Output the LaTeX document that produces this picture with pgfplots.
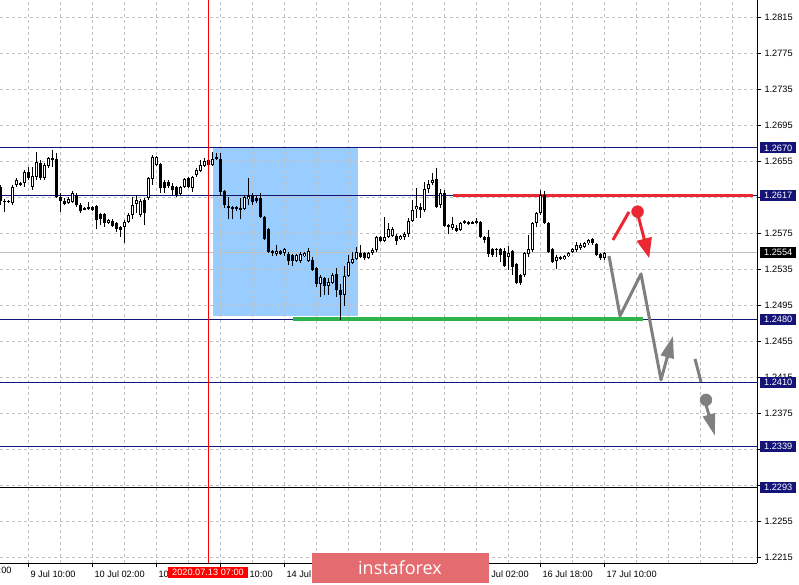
\documentclass[border=0pt]{standalone}
\usepackage{fontspec}
\setmainfont{Liberation Sans}
\newfontfamily\logofont{Open Sans}
\usepackage{pgfplots}
\pgfplotsset{compat=1.18}
\usepackage{pgfplotstable}
\usetikzlibrary{arrows.meta}

\definecolor{mtnavy}{RGB}{20,20,120}
\definecolor{lvlred}{RGB}{235,40,50}
\definecolor{lvlgreen}{RGB}{45,180,75}
\definecolor{boxblue}{RGB}{153,204,255}
\definecolor{gridgray}{RGB}{192,192,192}
\definecolor{arrgray}{RGB}{128,128,128}
\definecolor{logored}{RGB}{228,108,112}

% GBPUSD H1 candles: bar index, open, high, low, close
\pgfplotstableread{
k o h l c
0 1.26266 1.26289 1.26066 1.26111
1 1.26111 1.26133 1.25989 1.26100
2 1.26111 1.26122 1.26089 1.26105
3 1.26089 1.26289 1.26066 1.26266
4 1.26289 1.26366 1.26266 1.26344
5 1.26289 1.26322 1.26277 1.26311
6 1.26311 1.26455 1.26266 1.26433
7 1.26433 1.26488 1.26344 1.26366
8 1.26266 1.26488 1.26233 1.26388
9 1.26377 1.26655 1.26344 1.26544
10 1.26533 1.26566 1.26344 1.26366
11 1.26366 1.26533 1.26344 1.26511
12 1.26499 1.26599 1.26477 1.26588
13 1.26577 1.26677 1.26488 1.26588
14 1.26577 1.26644 1.26144 1.26155
15 1.26155 1.26200 1.25989 1.26111
16 1.26111 1.26144 1.26066 1.26078
17 1.26089 1.26155 1.26078 1.26133
18 1.26100 1.26222 1.26089 1.26200
19 1.26178 1.26200 1.26044 1.26066
20 1.26066 1.26089 1.25978 1.26000
21 1.26033 1.26044 1.26011 1.26022
22 1.26022 1.26100 1.26011 1.26044
23 1.26044 1.26055 1.26000 1.26011
24 1.26055 1.26066 1.25800 1.25900
25 1.25967 1.25978 1.25844 1.25911
26 1.25967 1.25978 1.25822 1.25867
27 1.25867 1.25911 1.25856 1.25900
28 1.25889 1.25911 1.25822 1.25833
29 1.25867 1.25878 1.25767 1.25800
30 1.25822 1.25833 1.25711 1.25789
31 1.25822 1.25900 1.25645 1.25878
32 1.25878 1.25978 1.25867 1.25955
33 1.25955 1.26155 1.25911 1.26066
34 1.26078 1.26178 1.25978 1.26122
35 1.25955 1.26133 1.25933 1.26111
36 1.26122 1.26144 1.25844 1.25978
37 1.26144 1.26377 1.26122 1.26366
38 1.26355 1.26622 1.26289 1.26599
39 1.26511 1.26610 1.26499 1.26599
40 1.26522 1.26533 1.26200 1.26255
41 1.26322 1.26344 1.26200 1.26255
42 1.26322 1.26344 1.26255 1.26277
43 1.26277 1.26311 1.26178 1.26233
44 1.26266 1.26277 1.26155 1.26178
45 1.26189 1.26277 1.26178 1.26266
46 1.26266 1.26366 1.26255 1.26355
47 1.26366 1.26377 1.26255 1.26266
48 1.26255 1.26388 1.26211 1.26377
49 1.26400 1.26477 1.26377 1.26455
50 1.26444 1.26566 1.26433 1.26511
51 1.26499 1.26588 1.26488 1.26555
52 1.26566 1.26588 1.26499 1.26511
53 1.26511 1.26655 1.26499 1.26577
54 1.26599 1.26644 1.26566 1.26588
55 1.26577 1.26644 1.26166 1.26211
56 1.26222 1.26233 1.26033 1.26066
57 1.26055 1.26155 1.25911 1.26044
58 1.26044 1.26055 1.25911 1.26033
59 1.26044 1.26055 1.26000 1.26022
60 1.26033 1.26144 1.25911 1.26011
61 1.26022 1.26178 1.26011 1.26155
62 1.26133 1.26366 1.26066 1.26166
63 1.26178 1.26200 1.26066 1.26100
64 1.26144 1.26166 1.26089 1.26111
65 1.26144 1.26200 1.25922 1.25933
66 1.25933 1.25944 1.25678 1.25689
67 1.25800 1.25811 1.25534 1.25545
68 1.25556 1.25567 1.25500 1.25534
69 1.25523 1.25623 1.25500 1.25556
70 1.25556 1.25567 1.25512 1.25523
71 1.25534 1.25589 1.25500 1.25578
72 1.25523 1.25545 1.25401 1.25445
73 1.25512 1.25523 1.25389 1.25445
74 1.25445 1.25523 1.25434 1.25512
75 1.25445 1.25545 1.25423 1.25523
76 1.25500 1.25545 1.25489 1.25534
77 1.25445 1.25589 1.25434 1.25556
78 1.25456 1.25489 1.25334 1.25345
79 1.25367 1.25378 1.25156 1.25190
80 1.25190 1.25290 1.25045 1.25267
81 1.25256 1.25267 1.25068 1.25167
82 1.25167 1.25256 1.25068 1.25212
83 1.25201 1.25312 1.25190 1.25290
84 1.25301 1.25367 1.25045 1.25123
85 1.25123 1.25190 1.24790 1.25068
86 1.25068 1.25389 1.24945 1.25278
87 1.25278 1.25512 1.25267 1.25434
88 1.25423 1.25545 1.25412 1.25467
89 1.25467 1.25600 1.25456 1.25545
90 1.25534 1.25623 1.25478 1.25489
91 1.25534 1.25545 1.25456 1.25478
92 1.25478 1.25545 1.25467 1.25534
93 1.25534 1.25589 1.25512 1.25567
94 1.25567 1.25722 1.25545 1.25711
95 1.25711 1.25722 1.25656 1.25667
96 1.25667 1.25933 1.25656 1.25711
97 1.25711 1.25867 1.25700 1.25800
98 1.25722 1.25822 1.25711 1.25800
99 1.25722 1.25745 1.25623 1.25667
100 1.25689 1.25733 1.25678 1.25722
101 1.25711 1.25767 1.25678 1.25745
102 1.25745 1.25922 1.25711 1.25889
103 1.25889 1.26122 1.25878 1.26011
104 1.26022 1.26255 1.25922 1.26055
105 1.26044 1.26089 1.25922 1.26011
106 1.26011 1.26322 1.25989 1.26244
107 1.26244 1.26344 1.26200 1.26300
108 1.26311 1.26422 1.26289 1.26344
109 1.26355 1.26477 1.26033 1.26044
110 1.26066 1.26244 1.26033 1.26200
111 1.26200 1.26233 1.25822 1.25833
112 1.25844 1.25856 1.25745 1.25822
113 1.25811 1.25933 1.25789 1.25856
114 1.25811 1.25844 1.25767 1.25778
115 1.25789 1.25878 1.25778 1.25867
116 1.25867 1.25900 1.25856 1.25889
117 1.25856 1.25889 1.25844 1.25878
118 1.25878 1.25889 1.25856 1.25867
119 1.25867 1.25922 1.25856 1.25889
120 1.25878 1.25889 1.25700 1.25711
121 1.25711 1.25722 1.25645 1.25678
122 1.25711 1.25789 1.25489 1.25523
123 1.25578 1.25589 1.25489 1.25512
124 1.25578 1.25589 1.25489 1.25567
125 1.25578 1.25589 1.25434 1.25512
126 1.25556 1.25589 1.25378 1.25389
127 1.25489 1.25611 1.25345 1.25534
128 1.25556 1.25567 1.25290 1.25378
129 1.25412 1.25423 1.25190 1.25201
130 1.25290 1.25301 1.25179 1.25201
131 1.25290 1.25545 1.25267 1.25534
132 1.25523 1.25733 1.25489 1.25578
133 1.25567 1.25878 1.25545 1.25867
134 1.25867 1.25989 1.25822 1.25978
135 1.25978 1.26233 1.25955 1.26178
136 1.26178 1.26222 1.25856 1.25867
137 1.25867 1.25878 1.25534 1.25545
138 1.25578 1.25589 1.25423 1.25434
139 1.25445 1.25512 1.25356 1.25489
140 1.25489 1.25500 1.25456 1.25467
141 1.25467 1.25512 1.25456 1.25500
142 1.25500 1.25545 1.25489 1.25534
143 1.25545 1.25589 1.25534 1.25578
144 1.25567 1.25656 1.25545 1.25623
145 1.25589 1.25645 1.25567 1.25623
146 1.25600 1.25656 1.25589 1.25645
147 1.25645 1.25689 1.25623 1.25678
148 1.25689 1.25700 1.25623 1.25645
149 1.25634 1.25645 1.25500 1.25512
150 1.25523 1.25534 1.25456 1.25478
151 1.25478 1.25545 1.25456 1.25534
}\candles

\begin{document}
\begin{tikzpicture}[font=\fontsize{9.2}{10}\selectfont]
\begin{axis}[
    set layers,
    at={(0,0)}, anchor=south west,
    width=757pt, height=563pt, scale only axis,
    xmin=0, xmax=189.25,
    ymin=1.22091, ymax=1.28342,
    clip=false,
    axis x line*=bottom, axis y line*=right,
    axis line style={black, line width=1pt},
    tick align=outside,
    major tick length=4pt, minor tick length=0pt,
    tick style={black, line width=1pt},
    xtick={7,23,39,55,71,87,103,119,135,151},
    % labels under the logo are hidden in the terminal, so left empty here
    xticklabels={9 Jul 10:00,10 Jul 02:00,10 Jul 18:00,13 Jul 10:00,14 Jul 02:00,
                 {},{},16 Jul 02:00,16 Jul 18:00,17 Jul 10:00},
    minor xtick={15,31,47,63,79,95,111,127,143,159,167,175,183},
    ytick={1.2215,1.2255,1.2295,1.2335,1.2375,1.2415,1.2455,1.2495,
           1.2535,1.2575,1.2615,1.2655,1.2695,1.2735,1.2775,1.2815},
    yticklabels={1.2215,1.2255,{},1.2335,1.2375,1.2415,1.2455,1.2495,
                 1.2535,1.2575,{},1.2655,1.2695,1.2735,1.2775,1.2815},
    grid=both,
    major grid style={gridgray, line width=1pt, dash pattern=on 3pt off 3pt},
    minor grid style={gridgray, line width=1pt, dash pattern=on 3pt off 3pt},
    xticklabel style={anchor=north west, xshift=-1pt},
    yticklabel style={anchor=west},
]

% selected range box
\addplot[on layer=axis background, fill=boxblue, draw=none]
    coordinates {(53.17,1.24834) (89.42,1.24834) (89.42,1.26707) (53.17,1.26707)} --cycle;

% horizontal levels
\addplot[gridgray, line width=1pt] coordinates {(0,1.2554) (189.25,1.2554)};
\addplot[mtnavy, line width=1pt] coordinates {(0,1.2670) (189.25,1.2670)};
\addplot[mtnavy, line width=1pt] coordinates {(0,1.2617) (189.25,1.2617)};
\addplot[mtnavy, line width=1pt] coordinates {(0,1.2480) (189.25,1.2480)};
\addplot[mtnavy, line width=1pt] coordinates {(0,1.2410) (189.25,1.2410)};
\addplot[mtnavy, line width=1pt] coordinates {(0,1.2339) (189.25,1.2339)};
\addplot[black, line width=1pt] coordinates {(0,1.2293) (189.25,1.2293)};
\addplot[lvlred, line width=3.5pt] coordinates {(113.3,1.2617) (188.3,1.2617)};
\addplot[lvlgreen, line width=3.5pt] coordinates {(73.2,1.2480) (160.7,1.2480)};

% candles: wicks, bodies, hollow bullish bodies
\addplot[draw=none, mark=none, error bars/.cd, y dir=both, y explicit, error mark=none,
    error bar style={draw=black, line width=1pt}]
    table[x=k, y expr={(\thisrow{h}+\thisrow{l})/2},
          y error expr={(\thisrow{h}-\thisrow{l})/2}] {\candles};
\addplot[draw=none, mark=none, error bars/.cd, y dir=both, y explicit, error mark=none,
    error bar style={draw=black, line width=3pt}]
    table[x=k, y expr={(\thisrow{o}+\thisrow{c})/2},
          y error expr={max(abs(\thisrow{o}-\thisrow{c})/2,0.0000555)}] {\candles};
\addplot[draw=none, mark=none,
    restrict expr to domain={\thisrow{c}-\thisrow{o}}{0.00025:1},
    error bars/.cd, y dir=both, y explicit, error mark=none,
    error bar style={draw=white, line width=1pt}]
    table[x=k, y expr={(\thisrow{o}+\thisrow{c})/2},
          y error expr={(\thisrow{c}-\thisrow{o})/2-0.000111}] {\candles};

% start of the selected range
\addplot[red, line width=1pt] coordinates {(52,1.22091) (52,1.28342)};

% forecast arrows
\addplot[lvlred, line width=3pt] coordinates {(153.25,1.25678) (157.25,1.25989)};
\addplot[lvlred, only marks, mark=*, mark size=6pt] coordinates {(159.4,1.25992)};
\addplot[lvlred, line width=3pt, -{Triangle[length=20pt, width=15pt]}]
    coordinates {(159.6,1.25937) (162.3,1.25475)};
\addplot[arrgray, line width=3pt, line join=round, -{Triangle[length=22pt, width=13pt]}]
    coordinates {(152.25,1.25500) (155,1.24834) (160.25,1.25301) (165.25,1.24124) (168.25,1.24612)};
\addplot[arrgray, line width=3pt] coordinates {(173.75,1.24357) (175.25,1.24102)};
\addplot[arrgray, only marks, mark=*, mark size=6pt] coordinates {(176.5,1.23902)};
\addplot[arrgray, line width=3pt, -{Triangle[length=22pt, width=12pt]}]
    coordinates {(176.5,1.23847) (178.75,1.23502)};

% price labels on the right scale
\tikzset{lbl/.style={anchor=west, fill=mtnavy, text=white, inner xsep=0pt, inner ysep=0pt,
    minimum height=11pt, minimum width=36pt}}
\node[lbl] at (axis cs:190,1.2670) {1.2670};
\node[lbl] at (axis cs:190,1.2617) {1.2617};
\node[lbl, fill=black] at (axis cs:190,1.2554) {1.2554};
\node[lbl] at (axis cs:190,1.2480) {1.2480};
\node[lbl] at (axis cs:190,1.2410) {1.2410};
\node[lbl] at (axis cs:190,1.2339) {1.2339};
\node[lbl] at (axis cs:190,1.2293) {1.2293};

\node[anchor=north west, xshift=-1pt] at (axis cs:-9,1.22091) {8 Jul 18:00};
\node[fill=red, text=white, inner sep=0pt, minimum height=11pt, minimum width=80pt,
    yshift=-9pt] at (axis cs:52,1.22091) {2020.07.13 07:00};
\node[fill=logored, text=white, inner sep=0pt, minimum height=30pt, minimum width=177pt,
    yshift=-5pt, font=\logofont\fontsize{18}{20}\selectfont] at (axis cs:100,1.22091) {instaforex};
\end{axis}
\pgfresetboundingbox
\path[use as bounding box] (0,-21pt) rectangle (799pt,563pt);
\end{tikzpicture}
\end{document}
